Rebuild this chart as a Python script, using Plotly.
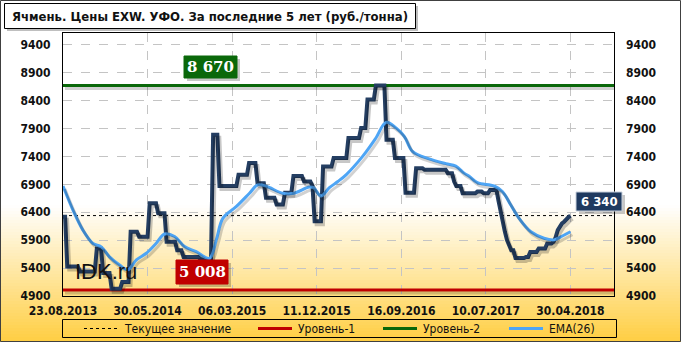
import plotly.graph_objects as go

# ---------------- data ----------------
tick_labels = ["23.08.2013", "30.05.2014", "06.03.2015", "11.12.2015",
               "16.09.2016", "10.07.2017", "30.04.2018"]
tick_index = [0, 40, 80, 120, 160, 200, 240]
y_ticks = [4900, 5400, 5900, 6400, 6900, 7400, 7900, 8400, 8900, 9400]

price = [
    6320, 6320, 5430, 5430, 5430, 5430, 5430, 5430, 5340, 5340,
    5340, 5340, 5340, 5340, 5340, 5340, 5750, 5750, 5750, 5310,
    5310, 5310, 5310, 5030, 5030, 5030, 5030, 5030, 5150, 5150,
    5150, 5150, 6050, 6050, 6050, 6050, 5960, 5960, 5960, 5960,
    5960, 6560, 6560, 6560, 6560, 6380, 6380, 6380, 6380, 5870,
    5870, 5870, 5870, 5870, 5720, 5720, 5720, 5600, 5600, 5600,
    5600, 5600, 5600, 5600, 5600, 5560, 5560, 5560, 5560, 5560,
    5560, 7790, 7790, 7790, 6870, 6870, 6870, 6870, 6870, 6870,
    6870, 6870, 6870, 7070, 7070, 7070, 7070, 7070, 7280, 7280,
    7280, 7280, 6920, 6920, 6920, 6920, 6660, 6660, 6660, 6660,
    6660, 6540, 6540, 6540, 6540, 6750, 6750, 6750, 6750, 7050,
    7050, 7050, 7050, 7050, 6950, 6950, 6950, 6950, 6870, 6240,
    6240, 6240, 6240, 7220, 7220, 7220, 7220, 7220, 7370, 7370,
    7370, 7370, 7370, 7370, 7370, 7730, 7730, 7730, 7730, 7730,
    7730, 7910, 7910, 7910, 8420, 8420, 8420, 8420, 8670, 8670,
    8670, 8670, 8670, 7700, 7700, 7700, 7700, 7370, 7370, 7370,
    7370, 7370, 6750, 6750, 6750, 6750, 6750, 7190, 7190, 7190,
    7190, 7160, 7160, 7160, 7160, 7160, 7160, 7160, 7160, 7160,
    7160, 7160, 7100, 7100, 7100, 6950, 6870, 6870, 6870, 6740,
    6740, 6740, 6740, 6740, 6740, 6740, 6770, 6770, 6770, 6740,
    6740, 6740, 6800, 6800, 6800, 6800, 6600, 6400, 6200, 6050,
    5900, 5810, 5720, 5720, 5580, 5580, 5580, 5580, 5580, 5600,
    5600, 5690, 5690, 5690, 5690, 5750, 5750, 5750, 5750, 5840,
    5840, 5840, 5870, 5950, 6080, 6150, 6200, 6230, 6280, 6310,
    6340,
]
price_index = list(range(len(price)))

ema_index = [0, 4.7, 9.4, 14.2, 18.1, 22, 26.8, 30.7, 34.7, 39.4, 44.1, 48,
             52.8, 57.5, 63, 69.3, 72.5, 75.6, 81.9, 88.2, 92.1, 96.1, 103.9,
             108.6, 116.5, 118.5, 122, 126, 130, 134, 141.7, 148, 152.8,
             157.5, 161.4, 165.3, 173.2, 181.1, 185.8, 189.7, 192.1, 196,
             203.9, 207.8, 211.8, 215.7, 221.3, 227.5, 232.3, 236.2, 240]
ema_values = [6870, 6440, 6080, 5840, 5780, 5600, 5455, 5370, 5545, 5665, 5845,
              6010, 5965, 5785, 5695, 5575, 5905, 6290, 6500, 6740, 6890, 6865,
              6740, 6735, 6850, 6840, 6690, 6840, 6950, 7075, 7400, 7730, 8010,
              7910, 7760, 7490, 7355, 7270, 7225, 7100, 7045, 6930, 6870, 6770,
              6530, 6290, 6050, 5935, 5905, 5975, 6050]

level1 = 5008
level2 = 8670
current = 6340

# ---------------- geometry helpers ----------------
W, H = 681, 342
L, R, T, B = 63, 67, 33, 46
PW, PH = W - L - R, H - T - B
X_RANGE = [0, 260.6]
Y_RANGE = [4900, 9610]


def px(x):
    return (x - L) / PW


def py(y):
    return (H - B - y) / PH


FONT = "DejaVu Sans Condensed, DejaVu Sans, Liberation Sans"
NAVY = "#243E62"
BLUE = "#4EA5F5"
GREEN = "#0A680A"
RED = "#C00000"

fig = go.Figure()

# shadows (drawn on offset axes)
sh_dx = 2 * (X_RANGE[1] - X_RANGE[0]) / PW
sh_dy = 3 * (Y_RANGE[1] - Y_RANGE[0]) / PH
fig.add_trace(go.Scatter(x=[X_RANGE[0], X_RANGE[1]], y=[level2, level2], mode="lines",
                         line=dict(color="rgba(0,0,0,0.18)", width=3),
                         xaxis="x3", yaxis="y3", hoverinfo="skip", showlegend=False))
fig.add_trace(go.Scatter(x=[X_RANGE[0], X_RANGE[1]], y=[level1, level1], mode="lines",
                         line=dict(color="rgba(0,0,0,0.18)", width=3),
                         xaxis="x3", yaxis="y3", hoverinfo="skip", showlegend=False))
fig.add_trace(go.Scatter(x=price_index, y=price, mode="lines",
                         line=dict(color="rgba(0,0,0,0.22)", width=4),
                         xaxis="x3", yaxis="y3", hoverinfo="skip", showlegend=False))
fig.add_trace(go.Scatter(x=ema_index, y=ema_values, mode="lines", line_shape="spline",
                         line=dict(color="rgba(0,0,0,0.18)", width=3),
                         xaxis="x3", yaxis="y3", hoverinfo="skip", showlegend=False))

# main series
fig.add_trace(go.Scatter(x=[X_RANGE[0], X_RANGE[1]], y=[current, current], mode="lines",
                         name="Текущее значение",
                         line=dict(color="black", width=1, dash="3px,3px")))
fig.add_trace(go.Scatter(x=[X_RANGE[0], X_RANGE[1]], y=[level1, level1], mode="lines",
                         name="Уровень-1", line=dict(color=RED, width=3)))
fig.add_trace(go.Scatter(x=[X_RANGE[0], X_RANGE[1]], y=[level2, level2], mode="lines",
                         name="Уровень-2", line=dict(color=GREEN, width=3)))
fig.add_trace(go.Scatter(x=price_index, y=price, mode="lines", name="Цена",
                         line=dict(color=NAVY, width=4), showlegend=False))
fig.add_trace(go.Scatter(x=ema_index, y=ema_values, mode="lines", name="EMA(26)",
                         line_shape="spline", line=dict(color=BLUE, width=3)))
# right axis carrier
fig.add_trace(go.Scatter(x=[0], y=[current], yaxis="y2", mode="markers",
                         marker=dict(opacity=0), hoverinfo="skip", showlegend=False))

# ---------------- shapes ----------------
shapes = []
# background gradient (white -> gold)
g0, g1 = 205, 342
c0 = (255, 255, 255)
c1 = (255, 206, 66)
step = 3
y = g0
while y < g1:
    t = (y + step / 2 - g0) / (g1 - g0)
    col = tuple(round(c0[i] + (c1[i] - c0[i]) * t) for i in range(3))
    shapes.append(dict(type="rect", xref="paper", yref="paper",
                       x0=px(0), x1=px(W), y0=py(y), y1=py(min(y + step, g1) + 0.5),
                       fillcolor="rgb(%d,%d,%d)" % col, line=dict(width=0), layer="below"))
    y += step
# outer frame
shapes.append(dict(type="rect", xref="paper", yref="paper",
                   x0=px(0.5), x1=px(680.5), y0=py(0.5), y1=py(341.5),
                   line=dict(color="#404040", width=1), layer="above"))
# title box with shadow
shapes.append(dict(type="rect", xref="paper", yref="paper",
                   x0=px(7), x1=px(418), y0=py(6), y1=py(31),
                   fillcolor="rgba(0,0,0,0.25)", line=dict(width=0), layer="below"))
shapes.append(dict(type="rect", xref="paper", yref="paper",
                   x0=px(4.5), x1=px(415.5), y0=py(3.5), y1=py(28.5),
                   fillcolor="white", line=dict(color="black", width=1), layer="below"))
# legend box
shapes.append(dict(type="rect", xref="paper", yref="paper",
                   x0=px(62.5), x1=px(616.5), y0=py(319.5), y1=py(337.5),
                   line=dict(color="black", width=1), layer="above"))
legend_y = 328.5
legend_items = [
    (84, 117, dict(color="black", width=1, dash="3px,3px"), 122, "Текущее значение"),
    (258, 292, dict(color=RED, width=3), 296, "Уровень-1"),
    (383, 417, dict(color=GREEN, width=3), 421, "Уровень-2"),
    (509, 543, dict(color=BLUE, width=3), 547, "EMA(26)"),
]
annotations = []
for x0, x1, ln, tx, label in legend_items:
    shapes.append(dict(type="line", xref="paper", yref="paper",
                       x0=px(x0), x1=px(x1), y0=py(legend_y), y1=py(legend_y),
                       line=ln, layer="above"))
    annotations.append(dict(xref="paper", yref="paper", x=px(tx), y=py(legend_y),
                            xanchor="left", yanchor="middle", showarrow=False,
                            text=label, font=dict(family=FONT, size=12, color="#111111")))

# title
annotations.append(dict(xref="paper", yref="paper", x=px(10), y=py(16),
                        xanchor="left", yanchor="middle", showarrow=False,
                        text="Ячмень. Цены EXW. УФО. За последние 5 лет (руб./тонна)",
                        font=dict(family=FONT, size=13, color="#111111", weight="bold")))


# value boxes (shadow as shape, label as annotation)
def value_box(x0, x1, y0, y1, text, bg, family, size, border=None):
    shapes.append(dict(type="rect", xref="paper", yref="paper",
                       x0=px(x0 + 3), x1=px(x1 + 3), y0=py(y0 + 3), y1=py(y1 + 3),
                       fillcolor="rgba(0,0,0,0.22)", line=dict(width=0), layer="above"))
    shapes.append(dict(type="rect", xref="paper", yref="paper",
                       x0=px(x0), x1=px(x1), y0=py(y0), y1=py(y1),
                       fillcolor=bg, line=dict(color=border if border else bg, width=1),
                       layer="above"))
    annotations.append(dict(xref="paper", yref="paper", x=px((x0 + x1) / 2),
                            y=py((y0 + y1) / 2), xanchor="center", yanchor="middle",
                            showarrow=False, text=text,
                            font=dict(family=family, size=size, color="white",
                                      weight="bold")))


value_box(184, 237, 56, 78, "8 670", GREEN, "DejaVu Serif", 15)
value_box(176, 228, 260, 284, "5 008", RED, "DejaVu Serif", 15)
value_box(576, 622, 192, 211, "6 340", "#1F3A60", FONT, 13, border="#C8D0DC")

# watermark
annotations.append(dict(xref="paper", yref="paper", x=px(105.5), y=py(271.5),
                        xanchor="center", yanchor="middle", showarrow=False,
                        text="IDK.ru", font=dict(family="Liberation Sans", size=22,
                                                 color="#111111")))

tickfont = dict(family=FONT, size=12, color="#111111", weight="bold")
grid = dict(showgrid=True, gridcolor="#C4C4C4", griddash="dash", gridwidth=1)

fig.update_layout(
    width=W, height=H,
    margin=dict(l=L, r=R, t=T, b=B, pad=0),
    paper_bgcolor="white",
    plot_bgcolor="rgba(0,0,0,0)",
    showlegend=False,
    shapes=shapes,
    annotations=annotations,
    xaxis=dict(range=X_RANGE, tickmode="array", tickvals=tick_index, ticktext=tick_labels,
               tickfont=tickfont, ticks="", ticklabelstandoff=4,
               showline=True, linecolor="black", linewidth=1, mirror=True,
               zeroline=False, **grid),
    yaxis=dict(range=Y_RANGE, tickmode="array", tickvals=y_ticks,
               tickfont=tickfont, ticks="", ticklabelstandoff=9,
               showline=True, linecolor="black", linewidth=1, mirror=True,
               zeroline=False, **grid),
    yaxis2=dict(range=Y_RANGE, overlaying="y", side="right", tickmode="array",
                tickvals=y_ticks, tickfont=tickfont, ticks="", ticklabelstandoff=11,
                showgrid=False, zeroline=False, showline=False),
    xaxis3=dict(range=[X_RANGE[0] - sh_dx, X_RANGE[1] - sh_dx], overlaying="x",
                visible=False),
    yaxis3=dict(range=[Y_RANGE[0] + sh_dy, Y_RANGE[1] + sh_dy], overlaying="y",
                visible=False),
)

fig.write_html("out.html")
